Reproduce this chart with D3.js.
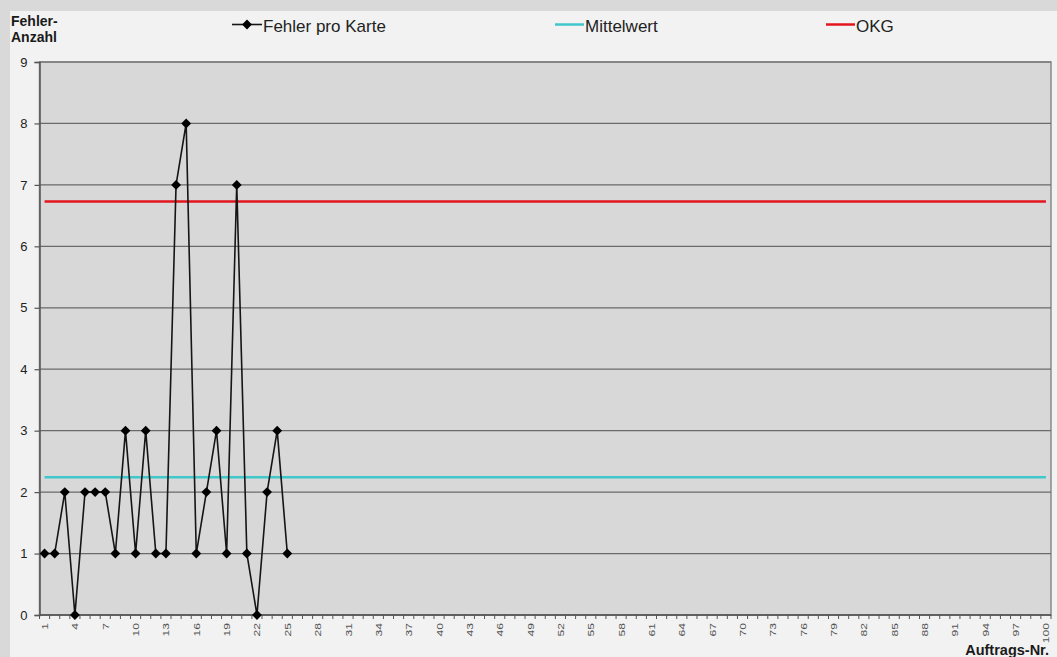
<!DOCTYPE html>
<html>
<head>
<meta charset="utf-8">
<script src="https://cdn.jsdelivr.net/npm/d3@7"></script>
<style>
  html, body { margin: 0; padding: 0; background: #d9d9d9; }
  svg { display: block; font-family: Arial, "Liberation Sans", sans-serif; }
</style>
</head>
<body>
<svg id="chart" width="1057" height="657"></svg>
<script>
// Fehler pro Karte, Aufträge 1..25
const orderNumbers = d3.range(1, 101);
const errorsPerCard = [1, 1, 2, 0, 2, 2, 2, 1, 3, 1, 3, 1, 1, 7, 8, 1, 2, 3, 1, 7, 1, 0, 2, 3, 1];
const meanValue = 2.24;      // Mittelwert
const upperLimit = 6.73;     // OKG (obere Kontrollgrenze)
const yTicks = [0, 1, 2, 3, 4, 5, 6, 7, 8, 9];
const legendItems = ["Fehler pro Karte", "Mittelwert", "OKG"];

const W = 1057, H = 657;
const plot = { left: 39.5, right: 1051, top: 62, bottom: 615 };
const colMean = "#3fc7cb", colLimit = "#e3161d", colData = "#151515";

const svg = d3.select("#chart");

// Hintergrundflächen
svg.append("rect").attr("x", 0).attr("y", 0).attr("width", W).attr("height", H).attr("fill", "#d9d9d9");
svg.append("rect").attr("x", 10).attr("y", 11).attr("width", W - 10).attr("height", H - 11).attr("fill", "#f2f2f2");

const x = d3.scaleBand().domain(orderNumbers).range([plot.left, plot.right]).paddingInner(0).paddingOuter(0);
const y = d3.scaleLinear().domain([0, 9]).range([plot.bottom, plot.top]);
const cx = n => x(n) + x.bandwidth() / 2;

// Zeichenfläche
svg.append("rect")
  .attr("x", plot.left).attr("y", plot.top)
  .attr("width", plot.right - plot.left).attr("height", plot.bottom - plot.top)
  .attr("fill", "#d8d8d8").attr("stroke", "#8a8a8a").attr("stroke-width", 1.5);

// horizontale Gitterlinien
svg.append("g").selectAll("line").data(yTicks).join("line")
  .attr("x1", plot.left).attr("x2", plot.right)
  .attr("y1", d => y(d)).attr("y2", d => y(d))
  .attr("stroke", "#6a6a6a").attr("stroke-width", 1.2);

// y-Achse
const yAxis = svg.append("g").attr("transform", `translate(${plot.left},0)`)
  .call(d3.axisLeft(y).tickValues(yTicks).tickSize(5).tickPadding(7).tickFormat(d3.format("d")));
yAxis.select(".domain").attr("stroke", "#555").attr("stroke-width", 1.5);
yAxis.selectAll(".tick line").attr("stroke", "#555").attr("stroke-width", 1.2);
yAxis.selectAll(".tick text").attr("font-size", 13).attr("fill", "#222")
  .attr("font-family", "Arial, 'Liberation Sans', sans-serif");

// x-Achse: kleine Striche an jeder Kategoriegrenze
const xg = svg.append("g");
xg.append("line").attr("x1", plot.left).attr("x2", plot.right)
  .attr("y1", plot.bottom).attr("y2", plot.bottom).attr("stroke", "#555").attr("stroke-width", 1.5);
const boundaries = orderNumbers.map(n => x(n)).concat([plot.right]);
xg.selectAll("line.tick").data(boundaries).join("line").attr("class", "tick")
  .attr("x1", d => d).attr("x2", d => d)
  .attr("y1", plot.bottom).attr("y2", plot.bottom + 4)
  .attr("stroke", "#555").attr("stroke-width", 1);
xg.selectAll("text").data(orderNumbers.filter(n => (n - 1) % 3 === 0)).join("text")
  .attr("transform", n => `translate(${cx(n) + 3.5},${plot.bottom + 8}) rotate(-90) scale(1.15,0.95)`)
  .attr("text-anchor", "end")
  .attr("font-size", 10.5).attr("fill", "#555")
  .text(n => n);

// Mittelwert- und OKG-Linie
svg.append("line")
  .attr("x1", cx(1)).attr("x2", cx(100))
  .attr("y1", y(meanValue)).attr("y2", y(meanValue))
  .attr("stroke", colMean).attr("stroke-width", 2.5);
svg.append("line")
  .attr("x1", cx(1)).attr("x2", cx(100))
  .attr("y1", y(upperLimit)).attr("y2", y(upperLimit))
  .attr("stroke", colLimit).attr("stroke-width", 2.5);

// Fehlerlinie mit Rauten
const pts = errorsPerCard.map((v, i) => [cx(i + 1), y(v)]);
svg.append("path")
  .attr("d", d3.line()(pts))
  .attr("fill", "none").attr("stroke", colData).attr("stroke-width", 1.6);
const diamond = d3.symbol().type(d3.symbolDiamond2).size(62);
svg.append("g").selectAll("path").data(pts).join("path")
  .attr("transform", d => `translate(${d[0]},${d[1]})`)
  .attr("d", diamond).attr("fill", "#000");

// Achsentitel
const yTitle = svg.append("text").attr("x", 11).attr("y", 26)
  .attr("font-size", 14).attr("font-weight", "bold").attr("fill", "#1a1a1a");
yTitle.append("tspan").attr("x", 11).text("Fehler-");
yTitle.append("tspan").attr("x", 11).attr("dy", 16).text("Anzahl");

svg.append("text").attr("x", 1049).attr("y", 655)
  .attr("text-anchor", "end").attr("font-size", 14.5).attr("font-weight", "bold").attr("fill", "#1a1a1a")
  .text("Auftrags-Nr.");

// Legende
const legendX = [232, 555, 826];
const legendColors = [colData, colMean, colLimit];
const lg = svg.append("g");
legendItems.forEach((label, i) => {
  const g = lg.append("g").attr("transform", `translate(${legendX[i]},24.5)`);
  const len = i === 0 ? 30 : 29;
  g.append("line").attr("x1", 0).attr("x2", len).attr("y1", 0).attr("y2", 0)
    .attr("stroke", legendColors[i]).attr("stroke-width", i === 0 ? 1.6 : 2.5);
  if (i === 0) g.append("path").attr("transform", "translate(15,0)").attr("d", diamond).attr("fill", "#000");
  g.append("text").attr("x", len + 1).attr("y", 7.5)
    .attr("font-size", 17).attr("fill", "#222").text(label);
});
</script>
</body>
</html>
